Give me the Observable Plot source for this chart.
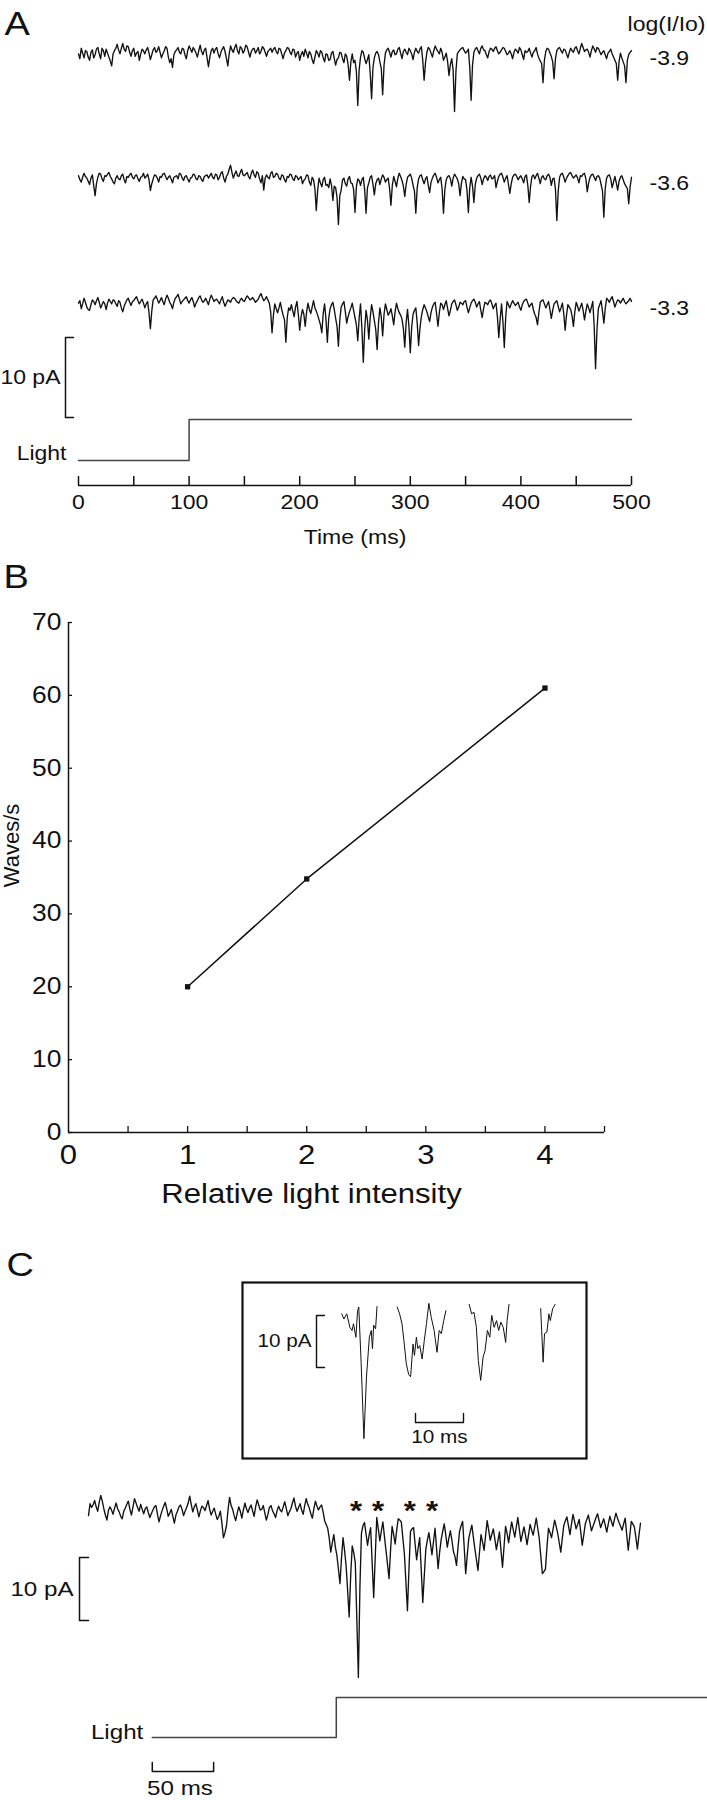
<!DOCTYPE html>
<html>
<head>
<meta charset="utf-8">
<script src="https://cdn.jsdelivr.net/npm/d3@7"></script>
<script src="https://cdn.jsdelivr.net/npm/@observablehq/plot@0.6"></script>
<style>
  html, body { margin: 0; padding: 0; background: #fff; }
  #fig { position: relative; width: 707px; height: 1800px; overflow: hidden; background: #fff; }
</style>
</head>
<body>
<div id="fig"></div>
<script>
// ---------------- DATA ----------------
// Panel A: three current traces (pA, relative to baseline).
// "Even" arrays are samples at 0, 2.5, 5 ... 500 ms; "Odd" arrays are the samples at 1.25, 3.75 ... 498.75 ms.
const sampleStepA = 2.5;
const logIntensityLabels = ["-3.9", "-3.6", "-3.3"];
const trace39 = [
  0.2, 0.9, -0.3, 0.5, -0.6, 0.7, 0.1, 1.0, -0.4, 0.6,
  0.8, -0.2, -1.3, 0.6, 1.4, 0.2, 1.5, 0.5, 1.1, -0.1,
  0.9, 0.3, -0.6, 0.8, 0.2, 1.0, -0.5, 0.7, 0.4, 1.1,
  -0.3, 0.6, 0.9, -0.9, -1.5, 0.5, 1.0, 0.2, 0.8, -0.4,
  1.2, 0.4, 0.7, -0.2, 1.3, 0.1, 0.9, -1.4, 0.6, 0.3,
  1.0, -0.3, 0.8, 0.5, -1.3, 1.2, 0.4, 1.4, 0.2, 0.9,
  0.6, 1.1, -0.2, 0.8, 0.3, 1.0, 0.5, 0.9, -0.1, 0.7,
  0.4, 1.0, 0.2, 0.8, -0.4, 0.6, 0.9, 0.1, 0.7, 0.3,
  -0.6, 0.5, 0.8, -0.3, 0.2, -1.0, 0.6, -0.2, 0.4, -0.8,
  0.1, -0.5, 0.5, -1.2, -0.3, 0.3, -0.9, -0.1, -3.1, 0.2,
  -0.6, -6.25, -0.2, 0.4, -1.0, 0.1, -5.4, -0.3, 0.5, -0.8,
  -4.9, 0.3, 0.9, -0.2, 0.7, 0.2, 1.0, -0.4, 0.8, 0.1,
  0.6, -0.5, 0.9, 0.3, 1.1, -3.1, 0.4, 0.8, -0.2, 1.2,
  0.5, 0.9, -0.6, 0.3, -2.5, -0.4, -7.0, 0.2, 0.7, 1.0,
  0.3, 0.8, -5.6, 0.4, 1.0, 0.2, 1.2, 0.6, -0.3, 0.9,
  0.5, 1.1, 0.2, 0.7, 0.9, 0.1, 0.6, -0.4, 0.8, 0.3,
  0.7, -0.5, 0.4, 0.9, -0.2, 0.6, 0.2, -0.7, -3.4, 0.5,
  0.8, -0.1, -2.9, 0.6, 1.0, 0.3, 0.7, -0.3, 0.9, 0.4,
  1.1, 0.2, 1.5, 0.5, 0.8, -0.2, 1.2, 0.4, 0.9, 0.1,
  0.6, -0.4, 0.5, 0.2, -0.6, -3.1, 0.3, -0.8, -3.4, 0.1,
  0.6
];
const trace39Odd = [
  -0.4, 0.3, 0.6, -0.2, 0.4, -0.3, 0.8, 0.2, 0.9, -0.1,
  0.3, -0.7, 0.2, 0.9, 0.7, 0.9, 0.8, 1.2, 0.4, 0.6,
  -0.1, 0.5, 0.2, 0.6, 0.7, 0.3, 0.1, 1.0, 0.6, 0.4,
  0.2, 1.1, -0.2, -0.4, 0.1, 0.7, 0.4, 0.9, 0.1, 0.6,
  0.8, 1.0, 0.3, 0.6, 0.5, 0.7, -0.3, -0.2, 0.9, 0.8,
  0.2, 0.4, 1.1, -0.4, 0.2, 0.7, 1.0, 0.6, 1.1, 0.3,
  1.3, 0.4, 0.5, 0.9, 0.6, 0.2, 1.1, 0.4, 0.5, 0.9,
  0.8, 0.5, 0.9, 0.2, 0.3, 1.0, 0.4, 0.8, -0.2, 0.5,
  0.1, -0.1, 0.3, 0.5, -0.5, -0.2, 0.3, 0.6, -0.3, 0.2,
  -0.6, 0.3, -0.4, -0.5, 0.4, -0.4, 0.2, -1.1, -0.8, -0.9,
  -2.0, -1.8, 0.6, -0.4, -0.5, -2.2, -1.5, 0.3, 0.1, -1.6,
  -1.2, 0.7, 0.4, 0.5, 0.1, 0.8, 0.3, 0.5, 0.4, 0.9,
  0.2, 0.4, 0.5, 0.8, -0.6, -0.9, 1.0, 0.3, 0.6, 0.8,
  0.2, 0.4, -0.2, -0.8, -1.1, -1.9, -2.0, 0.5, 0.9, 0.6,
  0.5, -1.5, -1.2, 0.8, 0.6, 0.9, 0.7, 0.1, 0.5, 0.8,
  0.9, 0.6, 0.4, 1.0, 0.5, 0.3, 0.2, 0.4, 0.6, 1.0,
  0.1, 0.6, 0.5, 0.3, 0.4, 1.0, -0.3, -1.0, -0.6, 0.9,
  0.3, -0.8, -0.4, 0.9, 0.6, 0.8, 0.2, 0.4, 0.6, 0.9,
  0.6, 0.9, 1.0, 0.7, 0.4, 0.6, 0.8, 1.0, 0.5, 0.4,
  0.1, 0.3, 0.8, -0.2, -1.0, -0.8, -0.3, -1.3, -0.6, 0.4
];
const trace36 = [
  0.6, -0.2, 0.9, 0.3, -0.5, 0.7, -1.9, 0.4, 0.8, -0.1,
  0.5, 1.0, 0.2, -0.4, 0.6, 0.1, 0.8, -0.3, 0.4, 0.9,
  0.2, 0.7, -0.1, 0.5, 0.3, 0.8, -1.25, 0.2, 0.6, -0.2,
  0.4, 0.9, 0.1, 0.6, -0.3, 0.5, 0.2, 0.8, 0.0, 0.6,
  -0.2, 0.4, 0.7, 0.1, 0.5, -0.1, 0.6, 0.3, 0.9, 0.2,
  0.7, 0.4, 1.1, -0.2, 0.8, 1.9, 0.3, 1.2, 0.5, 1.4,
  0.6, 1.0, 0.2, 1.3, 0.4, 0.9, -0.3, -1.2, 0.7, 0.2,
  1.1, 0.5, 0.8, 0.1, 0.6, -0.2, 0.4, 0.7, 0.0, 0.5,
  0.3, -0.4, 0.2, 0.6, -0.6, 0.1, -3.75, 0.3, -0.8, 0.4,
  -0.5, 0.2, -2.5, -0.9, -5.5, -1.2, 0.3, -0.7, 0.5, -0.4,
  -4.0, 0.2, -0.6, 0.4, -4.1, -0.3, 0.6, -1.8, 0.1, -0.5,
  0.7, -0.2, 0.3, -3.1, 0.5, -0.8, 0.9, 0.0, -2.0, 0.4,
  0.8, -0.6, -4.1, 0.2, 0.7, -0.4, 0.5, -1.5, 0.3, 0.9,
  -0.3, 0.4, -4.1, 0.1, 0.6, -0.7, 0.8, 0.2, -1.9, 0.5,
  0.1, -4.0, 0.4, -2.75, 0.3, 0.8, -0.5, 0.6, 0.0, 0.7,
  0.3, -0.9, 0.5, 0.9, -0.2, 0.6, -1.6, 0.4, 0.8, 0.1,
  0.6, -0.3, 0.7, -2.75, 0.5, 0.2, 0.9, -0.4, 0.6, 0.1,
  0.8, -0.6, 0.3, -5.0, 0.4, 0.9, -0.2, 0.6, 1.0, 0.3,
  0.7, -0.3, 0.5, 0.9, -1.4, 0.4, 0.8, 0.0, 0.6, -0.5,
  -4.6, 0.3, 0.7, -0.9, 0.5, -1.2, 0.4, 0.1, -0.7, -2.9,
  0.4
];
const trace36Odd = [
  0.1, 0.4, 0.5, -0.1, 0.3, -0.6, -0.4, 0.9, 0.2, 0.6,
  0.8, 0.5, -0.2, 0.3, 0.2, 0.6, 0.1, 0.5, 0.7, 0.4,
  0.6, 0.2, 0.4, 0.9, 0.5, 0.1, -0.4, 0.7, 0.3, 0.5,
  0.8, 0.5, 0.4, 0.2, 0.4, 0.6, 0.9, 0.3, 0.5, 0.2,
  0.3, 0.8, 0.2, 0.6, 0.1, 0.5, 0.7, 0.6, 0.4, 0.8,
  0.1, 0.9, 0.3, 0.5, 1.4, 1.0, 0.8, 0.6, 1.0, 0.7,
  0.8, 0.5, 0.9, 0.7, 1.1, 0.2, 0.6, 0.3, 0.4, 0.9,
  0.4, 0.9, 0.3, 0.7, 0.1, 0.5, 0.8, 0.2, 0.6, 0.1,
  0.5, 0.0, 0.7, -0.2, 0.4, -1.0, -1.2, -0.3, 0.1, -0.6,
  -0.9, -0.6, -0.7, -2.1, -1.9, 0.1, -0.4, 0.2, -0.3, -1.1,
  -0.8, 0.0, 0.1, -1.2, -0.9, 0.4, -0.5, -0.4, 0.3, 0.2,
  0.4, 0.1, -1.0, -0.6, -0.1, 0.3, 0.5, -0.7, -0.5, 0.6,
  0.3, -1.3, -0.9, 0.6, 0.1, 0.2, -0.6, -0.2, 0.7, 0.4,
  0.1, -1.0, -1.1, 0.5, 0.2, 0.3, 0.5, -0.4, -0.3, 0.2,
  -1.2, -0.9, -0.7, -0.5, 0.6, 0.3, 0.2, 0.4, 0.5, 0.2,
  0.6, -0.1, 0.8, 0.4, 0.3, -0.5, -0.4, 0.7, 0.5, 0.4,
  0.2, 0.5, -0.6, -0.7, 0.7, 0.6, 0.3, 0.4, 0.2, 0.6,
  0.4, 0.2, -1.1, -1.3, 0.8, 0.4, 0.3, 0.9, 0.6, 0.5,
  0.3, 0.6, 0.8, 0.2, -0.3, 0.7, 0.4, 0.5, 0.3, -1.3,
  -1.0, 0.6, 0.2, -0.2, -0.3, -0.1, 0.6, -0.4, -1.0, -0.8
];
const trace33 = [
  0.3, -0.4, 0.9, -0.2, -0.6, 0.7, 0.1, 1.0, -0.3, 0.5,
  -0.5, 0.8, 0.2, 0.6, -0.1, 0.4, -0.8, 0.3, 0.9, 0.0,
  0.6, 1.1, 0.2, 0.8, -0.3, 0.5, -2.9, 0.7, 1.2, 0.3,
  1.0, 0.1, 1.3, 0.4, -0.4, 0.9, 1.4, 0.2, 0.7, 1.1,
  0.3, 1.0, -0.2, 0.6, 1.2, 0.4, 0.9, 0.1, 1.3, 0.5,
  0.8, 0.2, 1.1, -0.1, 0.7, 0.4, 1.0, 0.6, 0.3, 0.9,
  0.5, 1.2, 0.7, 1.0, 0.4, 0.8, 1.5, 0.6, 1.1, 0.3,
  -3.4, 0.2, -0.9, 0.4, -1.2, -4.6, -0.3, 0.1, -1.4, 0.5,
  -3.1, -0.5, -2.6, 0.3, -1.0, 0.6, -0.7, -1.8, -3.4, 0.2,
  -4.6, -0.4, 0.4, -1.6, -5.1, -0.2, 0.5, -2.2, -0.8, 0.3,
  -1.5, -4.4, 0.2, -7.1, -0.6, -4.2, 0.1, -1.9, -5.5, -0.3,
  -3.8, 0.2, -1.2, -0.4, -2.4, 0.3, -0.9, -1.7, -5.2, -0.5,
  -5.9, -1.1, -0.3, -5.0, -1.4, 0.1, -0.8, -2.0, -0.2, 0.4,
  -2.6, 0.3, -0.5, 0.6, -1.3, 0.2, 0.7, -0.6, 0.4, 0.1,
  0.6, -0.9, 0.3, 0.8, -0.2, 0.5, -1.5, 0.4, 0.1, 0.7,
  -0.4, 0.3, -4.0, 0.2, -5.25, 0.5, -0.3, 0.6, 0.0, 0.4,
  -0.6, 0.5, 0.8, -0.2, 0.3, -1.1, -2.4, 0.4, 0.7, -0.3,
  0.5, -1.6, 0.2, 0.6, -0.8, 0.3, -3.1, 0.1, -0.5, -2.6,
  0.4, -0.7, 0.3, -1.8, 0.2, -0.9, 0.5, -7.9, -0.4, 0.6,
  -2.2, 0.9, 0.4, 1.1, -0.2, 0.7, 0.3, 0.9, 0.2, 0.6,
  0.5
];
const trace33Odd = [
  0.6, 0.2, 0.4, -0.5, 0.1, 0.5, 0.6, 0.4, 0.1, 0.2,
  0.3, 0.5, 0.7, 0.2, 0.6, -0.3, -0.1, 0.7, 0.4, 0.5,
  0.9, 0.6, 0.5, 0.3, 0.2, -0.9, -0.7, 0.9, 0.8, 0.6,
  0.5, 0.8, 0.9, 0.1, 0.4, 1.1, 0.8, 0.5, 0.9, 0.6,
  0.7, 0.5, 0.3, 1.0, 0.7, 0.6, 0.5, 0.8, 0.9, 0.7,
  0.5, 0.7, 0.4, 0.3, 0.6, 0.8, 0.9, 0.4, 0.7, 0.6,
  0.9, 1.0, 0.8, 0.7, 0.6, 1.2, 1.0, 0.8, 0.7, -0.8,
  -1.2, -0.4, -0.3, -0.5, -1.8, -1.5, -0.6, -0.7, -0.2, -1.1,
  -1.4, -1.1, -0.8, -0.5, -0.2, -0.3, -1.2, -2.4, -1.0, -1.7,
  -1.6, 0.1, -0.5, -2.6, -1.8, 0.2, -0.8, -1.4, -0.3, -0.6,
  -2.4, -1.6, -2.9, -3.0, -1.8, -1.5, -0.8, -3.0, -2.2, -1.4,
  -1.1, -0.5, -0.9, -1.3, -0.8, -0.4, -1.2, -2.9, -2.1, -2.6,
  -2.7, -0.6, -2.2, -2.8, -0.5, -0.3, -1.4, -0.9, 0.2, -1.0,
  -0.9, 0.1, 0.1, -0.4, -0.6, 0.5, 0.1, -0.2, 0.3, 0.5,
  -0.2, -0.3, 0.6, 0.4, 0.2, -0.6, -0.4, 0.3, 0.5, 0.2,
  0.0, -1.4, -1.7, -2.0, -1.5, 0.1, 0.2, 0.3, 0.2, -0.2,
  0.1, 0.7, 0.3, 0.1, -0.5, -1.5, -0.9, 0.6, 0.2, 0.1,
  -0.5, -0.6, 0.4, -0.1, -0.3, -1.0, -1.2, -0.2, -1.3, -0.8,
  -0.1, -0.2, -0.6, -0.7, -0.3, -0.2, -2.6, -3.1, 0.1, -0.7,
  -0.4, 0.7, 0.8, 0.5, 0.3, 0.6, 0.6, 0.5, 0.4, 0.9
];
const lightTimesA = [0, 100, 100, 500];
const lightLevelsA = [0, 0, 1, 1];
const timeTicksA = [0, 50, 100, 150, 200, 250, 300, 350, 400, 450, 500];
const timeLabelsA = [0, 100, 200, 300, 400, 500];
const scaleBarPA = 10;

// Panel B
const relIntensity = [1, 2, 4];
const wavesPerSec = [20, 34.8, 61];
const yTicksB = [0, 10, 20, 30, 40, 50, 60, 70];
const xTicksB = [0.5, 1, 1.5, 2, 2.5, 3, 3.5, 4, 4.5];
const xLabelsB = [0, 1, 2, 3, 4];

// Panel C: main trace (pA); even samples every 2.5 ms from 0, odd samples in between
const sampleStepC = 2.5;
const traceC = [
  -0.5, 0.8, 1.9, 0.2, 2.7, 0.6, -1.2, 0.9, -0.3, 1.5,
  0.1, -1.0, 0.7, 1.8, -0.4, 2.2, 0.8, 1.3, -0.2, 0.9,
  -0.8, 0.4, 1.1, -1.5, 0.3, 1.6, -0.6, 0.5, -1.7, 0.2,
  1.2, -0.5, 0.8, 2.6, 0.1, 1.4, -0.7, 1.0, 0.3, 1.9,
  -0.4, 0.7, -1.1, 0.2, -4.0, -2.1, 2.4, 0.5, -1.3, 0.9,
  -0.9, 1.5, 0.0, 1.2, -0.6, 2.0, 0.4, 1.1, -1.2, 0.8,
  0.3, -0.8, 1.0, 0.1, 1.7, -0.5, 0.6, 2.3, 0.2, 1.4,
  -0.3, 2.2, 0.7, -0.9, 1.8, 0.4, 1.2, -1.3, -2.5, -6.3,
  -3.5, -6.8, -11.3, -4.0, -8.5, -16.6, -5.3, -8.0, -26.2, -3.3,
  -1.6, -5.2, -2.4, -13.5, -0.8, -4.5, -1.5, -6.0, -10.5, -2.2,
  -5.0, -1.0, -1.5, -6.5, -15.6, -3.0, -2.4, -7.5, -4.0, -14.3,
  -5.8, -3.2, -6.7, -2.5, -8.9, -4.3, -1.8, -5.5, -2.9, -6.2,
  -8.4, -3.0, -1.4, -9.7, -4.1, -2.0, -5.8, -9.2, -3.5, -6.0,
  -1.3, -4.4, -2.6, -5.9, -3.1, -8.7, -2.2, -4.8, -1.5, -3.9,
  -0.8, -4.6, -2.3, -5.1, -1.9, -3.6, -0.9, -4.2, -9.7, -9.0,
  -2.5, -4.0, -1.2, -3.3, -6.3, -2.0, -0.7, -3.5, -0.3, -2.6,
  -1.1, -5.2, -1.8, -0.4, -2.9, -1.5, -0.2, -2.4, -1.0, -3.1,
  -0.6, -2.2, -0.1, -1.6, -2.8, -0.9, -6.0, -1.4, -2.3, -5.8,
  -1.7
];
const traceCOdd = [
  1.4, 1.2, 0.9, 1.6, 1.8, -0.4, 0.3, 0.4, 0.7, 0.6,
  -0.6, 0.2, 1.3, 0.5, 0.9, 1.5, 0.2, 0.5, 0.6, 0.0,
  -0.2, 0.9, -0.3, -0.5, 1.0, 0.6, -0.1, -0.6, -0.4, 0.9,
  0.5, 0.2, 1.5, 1.3, 0.9, 0.4, 0.3, 0.8, 1.1, 0.5,
  0.2, -0.3, -0.6, -1.7, -3.2, 0.4, 1.1, -0.5, -0.1, 0.2,
  0.4, 0.6, 0.7, 0.3, 0.9, 1.2, 0.5, -0.1, -0.3, 1.1,
  -0.2, 0.3, 0.4, 0.9, 0.6, 0.1, 1.5, 1.0, 0.8, 0.4,
  1.1, 1.3, -0.2, 0.6, 1.0, 0.9, 0.1, -1.9, -4.1, -4.8,
  -5.5, -9.0, -7.2, -6.0, -12.4, -10.0, -6.4, -17.0, -12.0, -2.1,
  -3.4, -3.6, -8.0, -7.1, -2.6, -2.9, -3.8, -8.2, -6.0, -3.5,
  -2.8, -1.2, -4.0, -11.0, -9.0, -2.6, -5.0, -5.6, -9.1, -10.0,
  -4.4, -4.9, -4.6, -5.7, -6.3, -3.0, -3.6, -4.1, -4.4, -7.0,
  -5.5, -2.1, -5.4, -6.8, -3.0, -3.9, -7.5, -6.3, -4.7, -3.6,
  -2.8, -3.5, -4.2, -4.5, -6.0, -5.4, -3.3, -3.0, -2.7, -2.3,
  -2.7, -3.4, -3.6, -3.5, -2.8, -2.3, -2.5, -7.0, -9.4, -5.5,
  -3.2, -2.6, -2.2, -4.8, -4.1, -1.3, -2.1, -1.8, -1.4, -1.9,
  -3.0, -3.6, -1.1, -1.6, -2.2, -0.8, -1.3, -1.7, -2.0, -1.8,
  -1.4, -1.1, -0.9, -2.2, -1.8, -3.5, -3.7, -1.8, -4.0, -3.6
];
const asteriskTimes = [218, 236, 262, 280];
const lightTimesC = [52, 202, 202, 504];
const lightLevelsC = [0, 0, 1, 1];
const scaleBarPC = 10;
const scaleBarMsC = 50;

// Panel C inset: four isolated waves (time ms, current pA)
const insetTimes = [
  [0.06, 0.5, 1.1, 1.75, 2.2, 2.5, 3.0, 3.35, 3.6, 4.1, 4.67, 5.2, 5.8, 6.2, 6.45, 6.7, 7.1, 7.4],
  [11.6, 12.1, 12.6, 13.0, 13.5, 14.0, 14.4, 14.9, 15.2, 15.6, 15.9, 16.3, 16.8, 17.25, 17.7, 18.2, 18.7, 19.3, 19.9, 20.35, 20.8, 21.3, 21.75],
  [26.6, 27.1, 27.6, 28.1, 28.5, 29.0, 29.5, 29.9, 30.4, 30.9, 31.3, 31.8, 32.3, 32.75, 33.2, 33.7, 34.2, 34.5, 34.9],
  [41.5, 41.7, 42.0, 42.3, 42.8, 43.2, 43.5, 44.0, 44.5]
];
const insetValues = [
  [-1.6, -2.6, -1.6, -4.2, -4.8, -3.5, -6.1, -1.0, -0.3, -11.2, -25.6, -13.8, -6.1, -4.8, -8.3, -3.8, -4.5, -0.2],
  [-0.3, -1.6, -3.5, -6.7, -11.2, -13.3, -13.7, -7.4, -9.6, -6.1, -8.3, -7.7, -10.3, -6.7, -3.5, 0.4, -2.3, -4.8, -9.0, -4.8, -5.4, -2.9, -1.0],
  [0.2, -1.6, -1.3, -4.2, -10.6, -14.4, -9.9, -8.7, -4.8, -6.1, -1.9, -4.2, -2.9, -4.8, -3.2, -4.2, -7.1, -2.9, 0.2],
  [-0.6, -4.8, -10.9, -5.4, -5.1, -1.6, -2.9, -0.6, 0.2]
];
const scaleBarPInset = 10;
const scaleBarMsInset = 10;

// ---------------- LAYOUT ----------------
const FONT = "'Liberation Sans', Arial, Helvetica, sans-serif";
const INK = "#111";
const TRACE_W = 1.35;
const fig = document.getElementById("fig");

function mk(opts) {
  return Plot.plot({
    margin: 0,
    style: {background: "transparent", overflow: "visible", fontFamily: FONT, color: INK},
    ...opts
  });
}
function place(svg, left, top) {
  svg.style.position = "absolute";
  svg.style.left = left + "px";
  svg.style.top = top + "px";
  svg.style.maxWidth = "none";
  fig.appendChild(svg);
}
const inv = (sc, px) => d3.scaleLinear(sc.domain, sc.range).invert(px);
// merge the even / odd sample arrays into one time-ordered series
function samples(even, odd, step) {
  const out = [];
  even.forEach((v, i) => {
    out.push({t: i * step, v});
    if (i < odd.length) out.push({t: i * step + step / 2, v: odd[i]});
  });
  return out;
}

// ---- Panel A: traces ----
const xA = {domain: [0, 500], range: [78, 631], axis: null};
const yA = {domain: [0, -10], range: [55, 135], axis: null};
const offsetsA = [0, -15.625, -31.25];
const rowsA = [[trace39, trace39Odd], [trace36, trace36Odd], [trace33, trace33Odd]].flatMap(([e, o], k) =>
  samples(e, o, sampleStepA).map(d => ({k, t: d.t, y: d.v + offsetsA[k]})));
const barTopA = inv(yA, 337);
const barXA = inv(xA, 65), barTickA = inv(xA, 73);
const bracketA = [[barTickA, barTopA], [barXA, barTopA], [barXA, barTopA - scaleBarPA], [barTickA, barTopA - scaleBarPA]];

place(mk({
  width: 707, height: 430, x: xA, y: yA,
  marks: [
    Plot.line(rowsA, {x: "t", y: "y", z: "k", stroke: INK, strokeWidth: TRACE_W}),
    Plot.text(logIntensityLabels, {x: 500, y: (d, i) => offsetsA[i], text: d => d, dx: 18, dy: 3, textAnchor: "start", fontSize: 20, fill: INK}),
    Plot.text(["log(I/Io)"], {frameAnchor: "top-right", text: d => d, dx: -2, dy: 16, textAnchor: "end", fontSize: 20, fill: INK}),
    Plot.text(["A"], {frameAnchor: "top-left", text: d => d, dx: 4, dy: 34, lineAnchor: "bottom", textAnchor: "start", fontSize: 33, fill: INK}),
    Plot.line(bracketA, {x: d => d[0], y: d => d[1], stroke: INK, strokeWidth: 1.5}),
    Plot.text([scaleBarPA + " pA"], {x: barXA, y: barTopA - scaleBarPA / 2, text: d => d, dx: -5, textAnchor: "end", fontSize: 20, fill: INK})
  ]
}), 0, 0);

// ---- Panel A: light step + time axis ----
const yLA = {domain: [0, 1], range: [60, 19], axis: null};
const axisLevelA = inv(yLA, 85), tickTopA = inv(yLA, 76);
const lightRowsA = lightTimesA.map((t, i) => ({t, l: lightLevelsA[i]}));
place(mk({
  width: 707, height: 150, x: xA, y: yLA,
  marks: [
    Plot.line(lightRowsA, {x: "t", y: "l", stroke: "#444", strokeWidth: 1.5}),
    Plot.text(["Light"], {x: 0, y: 0, text: d => d, dx: -12, dy: -7, textAnchor: "end", fontSize: 20, fill: INK}),
    Plot.ruleY([axisLevelA], {x1: 0, x2: 500, stroke: INK, strokeWidth: 1.5}),
    Plot.ruleX(timeTicksA, {x: d => d, y1: axisLevelA, y2: tickTopA, stroke: INK, strokeWidth: 1.5}),
    Plot.text(timeLabelsA, {x: d => d, y: axisLevelA, text: d => String(d), dy: 17, fontSize: 20, fill: INK}),
    Plot.text(["Time (ms)"], {x: 250, y: axisLevelA, text: d => d, dy: 52, fontSize: 20, fill: INK})
  ]
}), 0, 400);

// ---- Panel B ----
const xB = {domain: [0, 4.5], range: [68, 604], axis: null};
const yB = {domain: [0, 70], range: [582, 72], axis: null};
const tickLenBx = inv(xB, 72);
const tickLenBy = inv(yB, 576);
const rowsB = relIntensity.map((x, i) => ({x, y: wavesPerSec[i]}));
place(mk({
  width: 707, height: 670, x: xB, y: yB,
  marks: [
    Plot.ruleX([0], {y1: 0, y2: 70, stroke: INK, strokeWidth: 1.5}),
    Plot.ruleY([0], {x1: 0, x2: 4.5, stroke: INK, strokeWidth: 1.5}),
    Plot.ruleY(yTicksB, {y: d => d, x1: 0, x2: tickLenBx, stroke: INK, strokeWidth: 1.3}),
    Plot.ruleX(xTicksB, {x: d => d, y1: 0, y2: tickLenBy, stroke: INK, strokeWidth: 1.3}),
    Plot.text(yTicksB, {x: 0, y: d => d, text: d => String(d), dx: -7, textAnchor: "end", fontSize: 23, fill: INK}),
    Plot.text(xLabelsB, {x: d => d, y: 0, text: d => String(d), dy: 23, fontSize: 27, fill: INK}),
    Plot.text(["Relative light intensity"], {x: inv(xB, 311), y: 0, text: d => d, dy: 62, fontSize: 27, fill: INK}),
    Plot.text(["Waves/s"], {x: 0, y: inv(yB, 295), text: d => d, dx: -57, rotate: -90, fontSize: 22, fill: INK}),
    Plot.line(rowsB, {x: "x", y: "y", stroke: INK, strokeWidth: 1.5}),
    Plot.dot(rowsB, {x: "x", y: "y", symbol: "square", r: 3, fill: INK}),
    Plot.text(["B"], {frameAnchor: "top-left", text: d => d, dx: 3, dy: 37, lineAnchor: "bottom", textAnchor: "start", fontSize: 33, fill: INK})
  ]
}), 0, 550);

// ---- Panel C: main trace ----
const xC = {domain: [0, 450], range: [88, 640], axis: null};
const yC = {domain: [0, -10], range: [272, 335], axis: null};
const rowsC = samples(traceC, traceCOdd, sampleStepC);
const barTopC = inv(yC, 1557 - 1240);
const barXC = inv(xC, 79), barTickC = inv(xC, 88);
const bracketC = [[barTickC, barTopC], [barXC, barTopC], [barXC, barTopC - scaleBarPC], [barTickC, barTopC - scaleBarPC]];
place(mk({
  width: 707, height: 460, x: xC, y: yC,
  marks: [
    Plot.line(rowsC, {x: "t", y: "v", stroke: INK, strokeWidth: TRACE_W}),
    Plot.text(asteriskTimes, {x: d => d, frameAnchor: "top", text: () => "*", dy: 1500 - 1240, fontSize: 27, fontWeight: "bold", fill: INK}),
    Plot.line(bracketC, {x: d => d[0], y: d => d[1], stroke: INK, strokeWidth: 1.5}),
    Plot.text([scaleBarPC + " pA"], {x: barXC, y: barTopC - scaleBarPC / 2, text: d => d, dx: -6, textAnchor: "end", fontSize: 21, fill: INK}),
    Plot.text(["C"], {frameAnchor: "top-left", text: d => d, dx: 6, dy: 35, lineAnchor: "bottom", textAnchor: "start", fontSize: 33, fill: INK})
  ]
}), 0, 1240);

// ---- Panel C: light step + 50 ms bar ----
const yLC = {domain: [0, 1], range: [37, -3], axis: null};
const barLevelC = inv(yLC, 71), barTickTopC = inv(yLC, 62);
const lightRowsC = lightTimesC.map((t, i) => ({t, l: lightLevelsC[i]}));
const msBarStartC = lightTimesC[0];
const msBarC = [[msBarStartC, barTickTopC], [msBarStartC, barLevelC], [msBarStartC + scaleBarMsC, barLevelC], [msBarStartC + scaleBarMsC, barTickTopC]];
place(mk({
  width: 707, height: 100, x: xC, y: yLC,
  marks: [
    Plot.line(lightRowsC, {x: "t", y: "l", stroke: "#444", strokeWidth: 1.5}),
    Plot.text(["Light"], {x: lightTimesC[0], y: 0, text: d => d, dx: -9, dy: -5, textAnchor: "end", fontSize: 21, fill: INK}),
    Plot.line(msBarC, {x: d => d[0], y: d => d[1], stroke: INK, strokeWidth: 1.5}),
    Plot.text([scaleBarMsC + " ms"], {x: msBarStartC + scaleBarMsC / 2, y: barLevelC, text: d => d, dx: -3, dy: 17, fontSize: 21, fill: INK})
  ]
}), 0, 1700);

// ---- Panel C: inset ----
const xI = {domain: [0, 10], range: [99, 147], axis: null};
const yI = {domain: [0, -10], range: [23, 75], axis: null};
const rowsI = insetTimes.flatMap((ts, k) => ts.map((t, i) => ({k, t, v: insetValues[k][i]})));
const barTopI = inv(yI, 33);
const barXI = inv(xI, 74), barTickI = inv(xI, 82);
const bracketI = [[barTickI, barTopI], [barXI, barTopI], [barXI, barTopI - scaleBarPInset], [barTickI, barTopI - scaleBarPInset]];
const msBarStartI = inv(xI, 173);
const msLevelI = inv(yI, 140), msTickI = inv(yI, 131);
const msBarI = [[msBarStartI, msTickI], [msBarStartI, msLevelI], [msBarStartI + scaleBarMsInset, msLevelI], [msBarStartI + scaleBarMsInset, msTickI]];
place(mk({
  width: 344, height: 176, x: xI, y: yI,
  marks: [
    Plot.frame({stroke: INK, strokeWidth: 2.2}),
    Plot.line(rowsI, {x: "t", y: "v", z: "k", stroke: INK, strokeWidth: 1}),
    Plot.line(bracketI, {x: d => d[0], y: d => d[1], stroke: INK, strokeWidth: 1.4}),
    Plot.text([scaleBarPInset + " pA"], {x: barXI, y: barTopI - scaleBarPInset / 2, text: d => d, dx: -5, textAnchor: "end", fontSize: 18, fill: INK}),
    Plot.line(msBarI, {x: d => d[0], y: d => d[1], stroke: INK, strokeWidth: 1.4}),
    Plot.text([scaleBarMsInset + " ms"], {x: msBarStartI + scaleBarMsInset / 2, y: msLevelI, text: d => d, dy: 15, fontSize: 18, fill: INK})
  ]
}), 242, 1282);

// ---- widen glyphs slightly (reference lettering is horizontally stretched) ----
fig.querySelectorAll("text").forEach(el => {
  const tr = (el.getAttribute("transform") || "") + ((el.parentNode && el.parentNode.getAttribute && el.parentNode.getAttribute("transform")) || "");
  if (tr.includes("rotate")) return;
  const len = el.getComputedTextLength();
  if (len > 0) {
    el.setAttribute("textLength", (len * 1.15).toFixed(2));
    el.setAttribute("lengthAdjust", "spacingAndGlyphs");
  }
});
</script>
</body>
</html>
